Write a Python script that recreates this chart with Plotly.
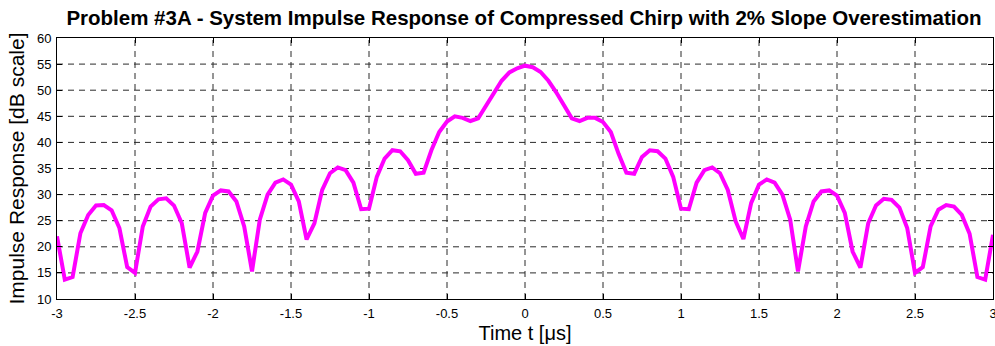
import numpy as np
import plotly.graph_objects as go

# Time samples (µs), 0.05 µs spacing
t = [round(-3 + 0.05 * i, 2) for i in range(121)]

# Impulse response values in dB
resp_db = [
    22.0, 13.7, 14.2, 22.6, 26.1, 27.9, 28.0, 27.0, 23.6, 16.1,   # -3.00 .. -2.55
    15.0, 23.9, 27.7, 29.1, 29.3, 27.9, 24.5, 16.0, 19.1, 26.5,   # -2.50 .. -2.05
    29.8, 30.8, 30.6, 28.7, 23.9, 15.3, 25.2, 30.0, 32.3, 32.9,   # -2.00 .. -1.55
    31.9, 28.7, 21.4, 24.5, 30.9, 34.1, 35.2, 34.7, 32.3, 27.2,   # -1.50 .. -1.05
    27.3, 33.4, 36.9, 38.5, 38.3, 36.6, 34.0, 34.2, 38.5, 42.0,   # -1.00 .. -0.55
    44.0, 45.0, 44.7, 44.1, 44.6, 47.0, 49.6, 51.8, 53.4, 54.2,   # -0.50 .. -0.05
    54.7,                                                         #  0.00
    54.4, 53.5, 51.8, 49.6, 47.0, 44.6, 44.1, 44.7, 44.7, 43.9,   #  0.05 .. 0.50
    42.0, 37.8, 34.2, 34.0, 37.2, 38.5, 38.3, 36.9, 33.4, 27.3,   #  0.55 .. 1.00
    27.2, 32.3, 34.7, 35.2, 34.1, 30.9, 24.9, 21.5, 28.4, 31.9,   #  1.05 .. 1.50
    32.9, 32.3, 30.0, 25.2, 15.3, 23.9, 28.7, 30.6, 30.8, 29.8,   #  1.55 .. 2.00
    26.5, 19.1, 16.0, 24.5, 27.9, 29.2, 29.0, 27.5, 23.6, 15.0,   #  2.05 .. 2.50
    16.1, 23.9, 27.1, 28.0, 27.7, 26.1, 22.5, 14.2, 13.7, 22.3,   #  2.55 .. 3.00
]

x_ticks = [-3, -2.5, -2, -1.5, -1, -0.5, 0, 0.5, 1, 1.5, 2, 2.5, 3]
x_tick_labels = ["-3", "-2.5", "-2", "-1.5", "-1", "-0.5", "0", "0.5", "1", "1.5", "2", "2.5", "3"]
y_ticks = [10, 15, 20, 25, 30, 35, 40, 45, 50, 55, 60]
y_tick_labels = [str(v) for v in y_ticks]

title_text = "Problem #3A - System Impulse Response of Compressed Chirp with 2% Slope Overestimation"
x_title = "Time t [μs]"
y_title = "Impulse Response [dB scale]"

FONT = "Liberation Sans, Arial, sans-serif"

fig = go.Figure()
fig.add_trace(go.Scatter(
    x=t, y=resp_db, mode="lines",
    line=dict(color="#FF00FF", width=4),
    showlegend=False, hoverinfo="skip",
))

# dashed grid lines drawn as shapes so the dash pattern can be controlled
grid_style = dict(color="#2a2a2a", width=1, dash="6px,5px")
for xv in x_ticks[1:-1]:
    fig.add_shape(type="line", xref="x", yref="paper", x0=xv, x1=xv, y0=0, y1=1,
                  line=grid_style, layer="below")
for yv in y_ticks[1:-1]:
    fig.add_shape(type="line", xref="paper", yref="y", x0=0, x1=1, y0=yv, y1=yv,
                  line=grid_style, layer="below")

fig.update_layout(
    width=995, height=346,
    margin=dict(l=57, r=2, t=38, b=47),
    paper_bgcolor="white", plot_bgcolor="white",
    font=dict(family=FONT, color="black", size=13),
    title=dict(text="<b>" + title_text + "</b>", x=0.5266, xanchor="center",
               y=0.948, yanchor="middle", font=dict(size=20.5, family=FONT)),
)
fig.update_xaxes(
    range=[-3, 3], tickmode="array", tickvals=x_ticks, ticktext=x_tick_labels,
    showgrid=False, zeroline=False, showline=True, linecolor="black", linewidth=1,
    mirror="ticks", ticks="inside", ticklen=5, tickcolor="black",
    tickfont=dict(size=13), ticklabelstandoff=2, ticklabeloverflow="allow",
    automargin=False,
    title=dict(text=x_title, font=dict(size=20), standoff=6),
)
fig.update_yaxes(
    range=[10, 60], tickmode="array", tickvals=y_ticks, ticktext=y_tick_labels,
    showgrid=False, zeroline=False, showline=True, linecolor="black", linewidth=1,
    mirror="ticks", ticks="inside", ticklen=5, tickcolor="black",
    tickfont=dict(size=13), ticklabelstandoff=2, ticklabeloverflow="allow",
    automargin=False,
    title=dict(text=y_title, font=dict(size=21), standoff=6),
)

fig.write_html("out.html")
